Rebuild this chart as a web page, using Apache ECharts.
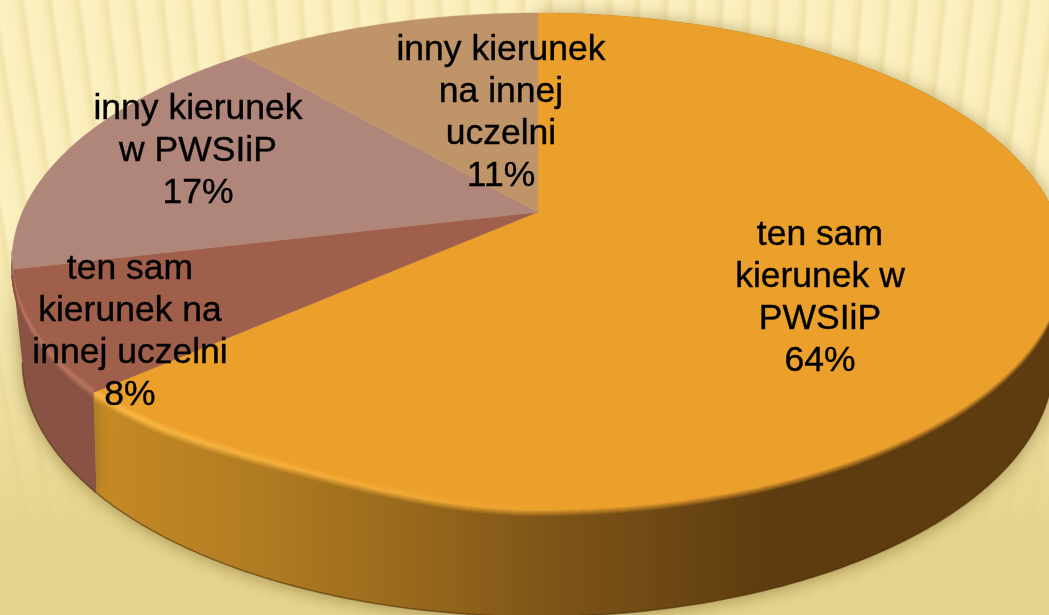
<!DOCTYPE html>
<html>
<head>
<meta charset="utf-8">
<title>Kierunek</title>
<script src="https://cdn.jsdelivr.net/npm/echarts@6/dist/echarts.min.js"></script>
<style>
  html, body { margin: 0; height: 100%; overflow: hidden; }
  body {
    background:
      linear-gradient(to bottom, rgba(229, 210, 138, 0) 35%, rgba(229, 210, 138, 0.92) 85%),
      repeating-conic-gradient(from 0deg at 560px 3600px, #fcf1c2 0deg, #faeebb 0.24deg, #f1e2a8 0.37deg, #fcf1c2 0.44deg);
  }
  #chart { width: 1049px; height: 615px; }
</style>
</head>
<body>
<div id="chart"></div>
<script>
// dane
const categories = ['ten sam\nkierunek w\nPWSIiP', 'ten sam\nkierunek na\ninnej uczelni', 'inny kierunek\nw PWSIiP', 'inny kierunek\nna innej\nuczelni']
const values = [64, 8, 17, 11]

// kolory wycinkow i scianek
const topColors = ['#eca02c', '#a05f4a', '#b0857a', '#bf9469']
const glowColors = ['#fab944', '#ba745d', '#c09a8e', '#c9a078']
const wallStops = [
  [[0, '#c68a24'], [0.23, '#b27c22'], [0.45, '#9a6a1c'], [0.67, '#7f5518'], [1, '#5e3c10']],
  [[0, '#885345'], [1, '#885345']],
  [[0, '#8f6f64'], [1, '#8f6f64']],
  [[0, '#9a7853'], [1, '#9a7853']]
]
// srodki etykiet
const labelPos = [[820, 214], [130, 248], [198, 88], [501, 29]]

// rzut perspektywiczny kola
const cx = 538
const cy = 212
const total = values.reduce((a, b) => a + b, 0)

function project(deg, spanX, spanY, persp) {
  // lekkie skrecenie kamery
  const a = (deg + 2.5 * Math.sin(deg * Math.PI / 180)) * Math.PI / 180
  const u = Math.sin(a)
  const v = -Math.cos(a)
  const w = 1 - persp * v
  return { u: u, v: v, x: cx + spanX * u / w, y: cy + spanY * v / w }
}

// gorna krawedz
function rim(deg) {
  const p = project(deg, 515.5, 238.6, 0.199)
  // lewy dolny luk jest w oryginale nieco bardziej plaski
  if (p.u < 0 && p.v > 0) p.y -= 190 * p.u * p.u * Math.pow(p.v, 10)
  return [p.x, p.y]
}

// dolna krawedz sciany
function base(deg) {
  const p = project(deg, 513, 243, 0.2225)
  return [cx + (p.x - cx) * 0.98, p.y + 92]
}

function arc(fn, from, to) {
  const pts = []
  const n = Math.ceil(Math.abs(to - from) * 2)
  for (let i = 0; i <= n; i++) pts.push(fn(from + (to - from) * i / n))
  return pts
}

function range(i) {
  const before = values.slice(0, i).reduce((a, b) => a + b, 0)
  return [before / total * 360, (before + values[i]) / total * 360]
}

function wallAt(i, o) {
  const stops = wallStops[i]
  for (let k = 1; k < stops.length; k++) {
    if (o <= stops[k][0]) {
      return echarts.color.lerp((o - stops[k - 1][0]) / (stops[k][0] - stops[k - 1][0]), [stops[k - 1][1], stops[k][1]])
    }
  }
  return stops[stops.length - 1][1]
}

// poswiata gasnie w prawo
function glowAt(i, o) {
  return o < 0.7 ? echarts.color.lerp(o / 0.7, [glowColors[i], topColors[i]]) : topColors[i]
}

const bandOffsets = [0, 0.15, 0.3, 0.45, 0.6, 0.7, 0.85, 1]

function bandStroke(i, d) {
  const stops = bandOffsets.map((o) => {
    let color
    if (d < 0) color = echarts.color.lerp((d + 6) / 6, [topColors[i], glowAt(i, o)])
    else color = echarts.color.lerp(d / 7, [glowAt(i, o), wallAt(i, o)])
    return { offset: o, color: color }
  })
  return new echarts.graphic.LinearGradient(98, 0, 770, 0, stops, true)
}

function wallFill(i) {
  const stops = wallStops[i].map((s) => ({ offset: s[0], color: s[1] }))
  return new echarts.graphic.LinearGradient(98, 0, 770, 0, stops, true)
}

function renderWall(params, api) {
  const i = params.dataIndex
  const [from, to] = range(i)
  // sciany tylko od strony widza
  const mid = (from + to) / 2
  if (mid < 90 || mid > 270) return null
  const top = arc(rim, from, to)
  const bottom = arc(base, from, to)
  return {
    type: 'group',
    children: [{
      type: 'polygon',
      shape: { points: top.concat(bottom.slice().reverse()) },
      style: { fill: wallFill(i), shadowBlur: 18, shadowColor: 'rgba(110, 90, 30, 0.55)', shadowOffsetY: 2 },
      silent: true
    }, {
      type: 'polyline',
      shape: { points: bottom },
      style: { stroke: 'rgba(70, 40, 5, 0.55)', lineWidth: 1.5, fill: null },
      silent: true
    }]
  }
}

function renderTop(params, api) {
  const i = params.dataIndex
  const [from, to] = range(i)
  const children = [{
    type: 'polygon',
    shape: { points: [[cx, cy]].concat(arc(rim, from, to)) },
    style: { fill: topColors[i], stroke: topColors[i], lineWidth: 0.5 },
    silent: true
  }]
  // faza na krawedzi, tylko od strony widza
  const nearFrom = Math.max(from, 95)
  const nearTo = Math.min(to, 262)
  if (nearTo > nearFrom) {
    const near = arc(rim, nearFrom, nearTo)
    for (let d = -6; d <= 7; d++) {
      children.push({
        type: 'polyline',
        shape: { points: near.map((p) => [p[0], p[1] + d]) },
        style: { stroke: bandStroke(i, d), lineWidth: 1.6, fill: null },
        silent: true
      })
    }
  }
  children.push({
    type: 'text',
    z2: 100,
    style: {
      x: labelPos[i][0],
      y: labelPos[i][1],
      text: categories[i] + '\n' + api.value(0) + '%',
      fill: '#000',
      stroke: '#000',
      lineWidth: 0.4,
      font: '35.5px "Liberation Sans", Arial, sans-serif',
      lineHeight: 42,
      align: 'center',
      verticalAlign: 'top'
    },
    silent: true
  })
  return { type: 'group', children: children }
}

const myChart = echarts.init(document.getElementById('chart'), null, { renderer: 'canvas' })
myChart.setOption({
  animation: false,
  backgroundColor: 'transparent',
  series: [
    { type: 'custom', coordinateSystem: 'none', z: 1, clip: false, data: values, renderItem: renderWall },
    { type: 'custom', coordinateSystem: 'none', z: 2, clip: false, data: values, renderItem: renderTop }
  ]
})
</script>
</body>
</html>
